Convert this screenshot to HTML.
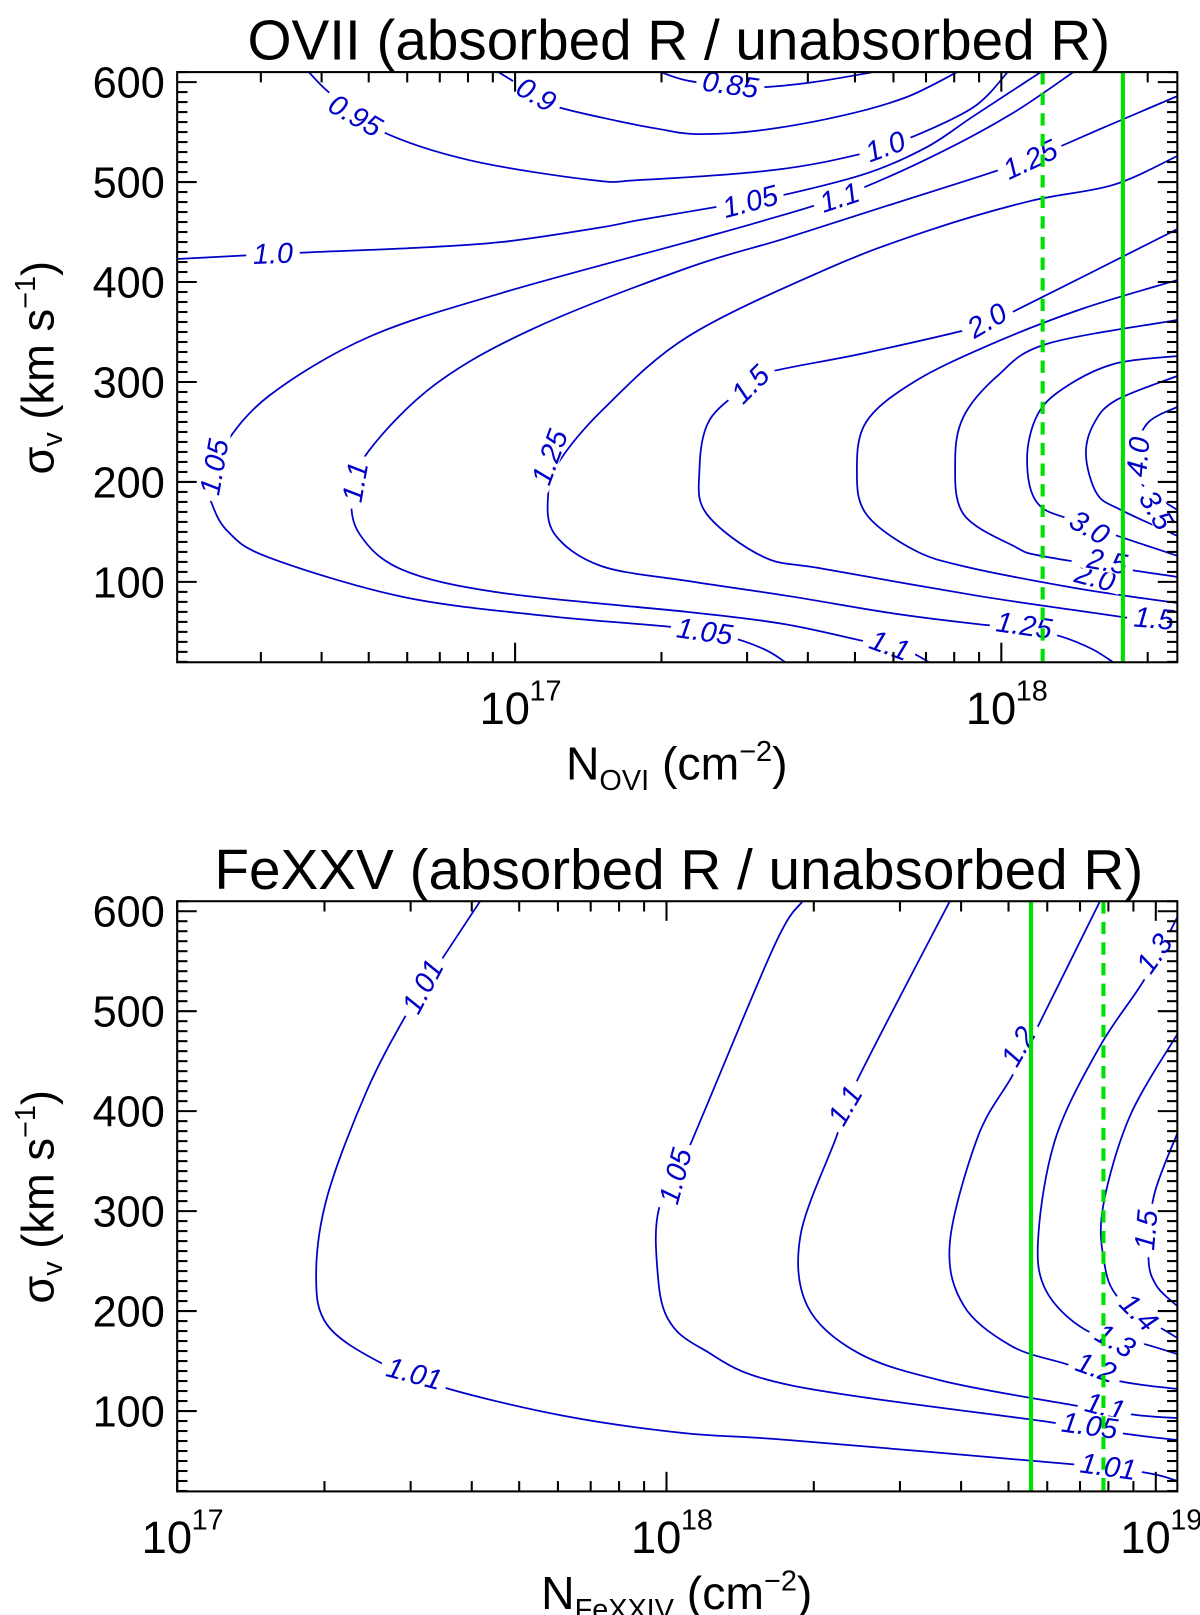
<!DOCTYPE html>
<html><head><meta charset="utf-8">
<style>
html,body{margin:0;padding:0;background:#fff;}
svg{display:block;}
text{font-family:"Liberation Sans",Arial,sans-serif;}
</style></head>
<body>
<svg id="fig" xmlns="http://www.w3.org/2000/svg" width="1200" height="1615" viewBox="0 0 1165 1568" preserveAspectRatio="none">
<rect x="0" y="0" width="1165" height="1568" fill="#fff"/>
<text x="659" y="58" font-size="55" text-anchor="middle">OVII (absorbed R / unabsorbed R)</text>
<text x="659" y="863" font-size="55" text-anchor="middle">FeXXV (absorbed R / unabsorbed R)</text>
<g id="topPanel"></g>
<g id="botPanel"></g>
<text x="657" y="757" font-size="45" text-anchor="middle">N<tspan font-size="28" dy="10">OVI</tspan><tspan dy="-10"> (cm</tspan><tspan font-size="28" dy="-18">−2</tspan><tspan dy="18">)</tspan></text>
<text x="657" y="1562" font-size="45" text-anchor="middle">N<tspan font-size="28" dy="10">FeXXIV</tspan><tspan dy="-10"> (cm</tspan><tspan font-size="28" dy="-18">−2</tspan><tspan dy="18">)</tspan></text>
<text transform="translate(52,357) rotate(-90)" font-size="44" text-anchor="middle">σ<tspan font-size="28" dy="8">v</tspan><tspan dy="-8"> (km s</tspan><tspan font-size="28" dy="-18">−1</tspan><tspan dy="18">)</tspan></text>
<text transform="translate(52,1162) rotate(-90)" font-size="44" text-anchor="middle">σ<tspan font-size="28" dy="8">v</tspan><tspan dy="-8"> (km s</tspan><tspan font-size="28" dy="-18">−1</tspan><tspan dy="18">)</tspan></text>
</svg>
<script>
// ---------- data: top panel (log10 N_OVI, sigma_v) ----------
const topYTicks = [100,200,300,400,500,600];
const topXTickExp = [17,18];
const topGreenSolid = 18.25;
const topGreenDashed = 18.085;
const topC085 = [[17.299,610],[17.350,602],[17.424,597],[17.508,595],[17.614,600],[17.737,610]];
const topC090 = [[16.966,610],[17.040,588],[17.089,575],[17.212,561],[17.297,553],[17.375,548],[17.508,552],[17.678,567],[17.805,585],[17.909,610]];
const topC095 = [[16.576,610],[16.619,589],[16.720,552],[16.905,522],[17.157,502],[17.256,502],[17.532,512],[17.710,528],[17.811,544],[17.943,575],[18.013,610]];
const topC100 = [[16.305,423],[16.544,429],[16.788,434],[16.972,440],[17.169,454],[17.256,462],[17.424,476],[17.551,487],[17.725,509],[17.847,535],[17.943,566],[18.081,610]];
const topC105 = [[18.148,610],[18.017,567],[17.847,523],[17.667,485],[17.508,461],[17.354,440],[16.972,389],[16.699,345],[16.496,287],[16.400,235],[16.371,198],[16.375,180],[16.410,150],[16.496,124],[16.769,85],[17.064,66],[17.299,56],[17.390,51],[17.468,41],[17.519,31],[17.555,20]];
const topC110 = [[18.362,586],[18.208,554],[18.059,523],[17.932,502],[17.763,476],[17.551,443],[17.354,414],[17.040,354],[16.837,298],[16.699,231],[16.665,188],[16.680,148],[16.769,112],[16.972,89],[17.354,70],[17.551,58],[17.706,42],[17.771,35],[17.816,29],[17.850,20]];
const topC125 = [[18.362,526],[18.229,497],[18.059,481],[17.847,451],[17.636,412],[17.354,345],[17.180,272],[17.090,220],[17.068,188],[17.081,148],[17.176,116],[17.354,101],[17.561,86],[17.784,68],[17.966,57],[18.047,54],[18.125,45],[18.186,33],[18.229,20]];
const topC150 = [[18.362,453],[18.019,369],[17.950,355],[17.720,329],[17.523,310],[17.483,298],[17.400,262],[17.379,211],[17.394,168],[17.511,125],[17.636,113],[17.953,86],[18.191,69],[18.362,57]];
const topC200 = [[18.362,402],[18.165,373],[17.975,337],[17.820,300],[17.722,260],[17.703,211],[17.722,168],[17.820,132],[17.928,115],[18.138,95],[18.271,85],[18.362,79]];
const topC250 = [[18.362,362],[18.093,338],[17.992,306],[17.922,265],[17.905,220],[17.922,168],[18.025,136],[18.093,125],[18.362,105]];
const topC300 = [[18.362,326],[18.231,318],[18.129,294],[18.074,267],[18.053,223],[18.074,179],[18.157,160],[18.362,126]];
const topC350 = [[18.362,306],[18.237,282],[18.191,259],[18.174,227],[18.197,188],[18.246,172],[18.362,146]];
const topC400 = [[18.362,275],[18.301,259],[18.275,227],[18.292,196],[18.362,172]];
const topLabelText = ['0.85','0.9','0.95','1.0','1.05','1.1','1.0','1.25','1.05','1.1','1.25','1.5','2.0','4.0','1.05','1.1','1.25','1.5','2.0','2.5','3.0','3.5'];
const topLabelPos = [[17.443,598],[17.044,588],[16.672,567],[16.502,429],[17.483,481],[17.667,485],[17.761,536],[18.059,523],[16.38,215],[16.67,200],[17.07,225],[17.483,298],[17.97,362],[18.28,225],[17.39,51],[17.771,37],[18.047,57],[18.314,64],[18.193,105],[18.218,121],[18.182,155],[18.32,172]];
const topLabelRot = [8,30,30,-2,-15,-18,-20,-25,-80,-80,-70,-45,-30,-85,8,20,8,5,15,10,30,60];

// ---------- data: bottom panel (log10 N_FeXXIV, sigma_v) ----------
const botYTicks = [100,200,300,400,500,600];
const botXTickExp = [17,18,19];
const botGreenSolid = 18.745;
const botGreenDashed = 18.893;
const botC101 = [[17.619,610],[17.533,546],[17.478,505],[17.389,422],[17.307,315],[17.284,236],[17.307,186],[17.413,149],[17.549,123],[17.792,95],[18.034,78],[18.248,71],[18.823,47],[18.983,38],[19.044,30]];
const botC105 = [[18.278,610],[18.219,564],[18.042,359],[17.985,303],[17.981,244],[18.002,193],[18.074,162],[18.251,126],[18.781,89],[18.941,77],[19.044,71]];
const botC110 = [[18.579,610],[18.385,426],[18.347,374],[18.274,276],[18.288,205],[18.392,158],[18.566,130],[18.829,106],[18.962,96],[19.044,93]];
const botC120 = [[18.886,610],[18.747,473],[18.705,434],[18.636,374],[18.579,268],[18.608,205],[18.705,165],[18.817,147],[18.926,130],[19.044,122]];
const botC130 = [[19.044,594],[18.977,532],[18.886,465],[18.796,374],[18.760,276],[18.775,221],[18.857,181],[18.962,169],[19.044,157]];
const botC140 = [[19.044,477],[18.947,395],[18.893,307],[18.893,253],[18.926,212],[19.044,173]];
const botC150 = [[19.044,378],[18.996,315],[18.985,253],[19.002,225],[19.044,205]];
const botLabelText = ['1.01','1.01','1.05','1.1','1.2','1.3','1.5','1.4','1.3','1.2','1.1','1.05','1.01'];
const botLabelPos = [[17.501,525],[17.485,138],[18.017,335],[18.364,406],[18.718,465],[18.996,558],[18.979,281],[18.966,199],[18.918,171],[18.878,144],[18.897,105],[18.865,86],[18.903,45]];
const botLabelRot = [-62,15,-75,-60,-60,-55,-85,45,30,20,15,8,8];

const NS = 'http://www.w3.org/2000/svg';
function mk(tag, attrs, parent){ const e=document.createElementNS(NS,tag); for(const k in attrs) e.setAttribute(k,attrs[k]); parent.appendChild(e); return e; }

function makePanel(P, xmin, xmax, ymin, ymax){
  const sx = L => P.l + (L - xmin)/(xmax - xmin)*(P.r - P.l);
  const sy = s => P.t + (ymax - s)/(ymax - ymin)*(P.b - P.t);
  return {sx, sy};
}

function smoothPath(pts){
  let d = 'M'+pts[0][0].toFixed(1)+','+pts[0][1].toFixed(1);
  for(let i=0;i<pts.length-1;i++){
    const p0=pts[Math.max(0,i-1)], p1=pts[i], p2=pts[i+1], p3=pts[Math.min(pts.length-1,i+2)];
    const c1=[p1[0]+(p2[0]-p0[0])/6, p1[1]+(p2[1]-p0[1])/6];
    const c2=[p2[0]-(p3[0]-p1[0])/6, p2[1]-(p3[1]-p1[1])/6];
    d += ' C'+c1[0].toFixed(1)+','+c1[1].toFixed(1)+' '+c2[0].toFixed(1)+','+c2[1].toFixed(1)+' '+p2[0].toFixed(1)+','+p2[1].toFixed(1);
  }
  return d;
}

function drawPanel(gid, P, ax, yTicks, xExp, xmin, xmax, contours, names, labText, labPos, labRot, gSolid, gDashed, prefix){
  const g = document.getElementById(gid);
  const clipId = prefix+'-clip';
  const defs = mk('defs',{},g);
  const cp = mk('clipPath',{id:clipId},defs);
  mk('rect',{x:P.l,y:P.t,width:P.r-P.l,height:P.b-P.t},cp);
  const cg = mk('g',{'clip-path':'url(#'+clipId+')'},g);
  contours.forEach((c,i)=>{
    const pts = c.map(p=>[ax.sx(p[0]), ax.sy(p[1])]);
    const path = mk('path',{d:smoothPath(pts),fill:'none',stroke:'#0000c8','stroke-width':1.7},cg);
    
    
  });
  labText.forEach((t,i)=>{
    const x=ax.sx(labPos[i][0]), y=ax.sy(labPos[i][1]);
    const lg = mk('g',{transform:'rotate('+labRot[i]+' '+x+' '+y+')'},cg);
    const w = t.length*14+10;
    mk('rect',{x:x-w/2,y:y-11,width:w,height:22,fill:'#fff'},lg);
    const tx = mk('text',{x:x,y:y+10,'font-size':28,'font-style':'italic',fill:'#0000c8','text-anchor':'middle'},lg);
    tx.textContent=t;
    
    
  });
  const gs = mk('line',{x1:ax.sx(gSolid),x2:ax.sx(gSolid),y1:P.t,y2:P.b,stroke:'#00e000','stroke-width':4},cg);
  
  
  const gd = mk('line',{x1:ax.sx(gDashed),x2:ax.sx(gDashed),y1:P.t,y2:P.b,stroke:'#00e000','stroke-width':4,'stroke-dasharray':'12,8'},cg);
  
  
  const fr = mk('rect',{x:P.l,y:P.t,width:P.r-P.l,height:P.b-P.t,fill:'none',stroke:'#000','stroke-width':2},g);
  
  
  for(let v=Math.ceil(P.ymin/10)*10; v<=P.ymax; v+=10){
    const y=ax.sy(v), major=(v%100===0), len=major?19:10;
    mk('line',{x1:P.l,x2:P.l+len,y1:y,y2:y,stroke:'#000','stroke-width':2},g);
    mk('line',{x1:P.r,x2:P.r-len,y1:y,y2:y,stroke:'#000','stroke-width':2},g);
  }
  yTicks.forEach(v=>{
    const t=mk('text',{x:P.l-12,y:ax.sy(v)+15,'font-size':42,'text-anchor':'end'},g);
    t.textContent=v;
    
    
  });
  for(let e=Math.floor(xmin); e<=Math.ceil(xmax); e++){
    for(let m=1;m<=9;m++){
      const L=e+Math.log10(m);
      if(L<xmin-1e-6||L>xmax+1e-6) continue;
      const x=ax.sx(L), len=(m===1)?19:10;
      mk('line',{x1:x,x2:x,y1:P.b,y2:P.b-len,stroke:'#000','stroke-width':2},g);
      mk('line',{x1:x,x2:x,y1:P.t,y2:P.t+len,stroke:'#000','stroke-width':2},g);
    }
  }
  xExp.forEach(e=>{
    const x=ax.sx(e);
    const t=mk('text',{x:x-10,y:P.b+60,'font-size':44,'text-anchor':'middle'},g);
    t.textContent='10';
    
    
    const s=mk('text',{x:x+14,y:P.b+37,'font-size':28,'text-anchor':'start'},g);
    s.textContent=String(e);
    
    
  });
}

const PT = {l:172,r:1143,t:70,b:643,ymin:19.6,ymax:610};
const axT = makePanel(PT, 16.305, 18.362, PT.ymin, PT.ymax);
drawPanel('topPanel', PT, axT, topYTicks, topXTickExp, 16.305, 18.362,
  [topC085,topC090,topC095,topC100,topC105,topC110,topC125,topC150,topC200,topC250,topC300,topC350,topC400],
  ['0.85','0.9','0.95','1.0','1.05','1.1','1.25','1.5','2.0','2.5','3.0','3.5','4.0'],
  topLabelText, topLabelPos, topLabelRot, topGreenSolid, topGreenDashed, 'top');

const PB = {l:172,r:1143,t:875,b:1448,ymin:19.6,ymax:610};
const axB = makePanel(PB, 17, 19.044, PB.ymin, PB.ymax);
drawPanel('botPanel', PB, axB, botYTicks, botXTickExp, 17, 19.044,
  [botC101,botC105,botC110,botC120,botC130,botC140,botC150],
  ['1.01','1.05','1.1','1.2','1.3','1.4','1.5'],
  botLabelText, botLabelPos, botLabelRot, botGreenSolid, botGreenDashed, 'bottom');
</script>
</body></html>
